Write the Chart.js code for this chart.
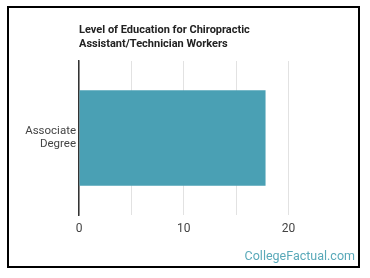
<!DOCTYPE html>
<html>
<head>
<meta charset="utf-8">
<script src="https://cdn.jsdelivr.net/npm/chart.js@4.4.0/dist/chart.umd.min.js"></script>
<style>
  body { margin: 0; background: #fff; }
  #chart { position: absolute; left: 0; top: 0; }
  .frame {
    position: absolute;
    left: 7px;
    top: 6px;
    width: 349px;
    height: 258px;
    border: 2px solid #000;
    pointer-events: none;
  }
</style>
</head>
<body>
<canvas id="chart" width="370" height="278"></canvas>
<div class="frame"></div>
<script>
const titleLines = ['Level of Education for Chiropractic', 'Assistant/Technician Workers'];
const categories = [['Associate', 'Degree']];
const workers = [17.8];
const xMax = 25;
const labelledTicks = [0, 10, 20];

// title + watermark drawn on the canvas, title lined up with the chart area
const extras = {
  id: 'extras',
  afterDraw(chart) {
    const ctx = chart.ctx;
    ctx.save();
    ctx.fillStyle = '#222';
    ctx.font = 'bold 11px Roboto';
    ctx.textBaseline = 'alphabetic';
    ctx.textAlign = 'left';
    titleLines.forEach((line, i) => {
      ctx.fillText(line, chart.chartArea.left, 33 + i * 13.5);
    });
    ctx.fillStyle = '#59a9b9';
    ctx.font = '12.5px Roboto';
    ctx.textAlign = 'right';
    ctx.fillText('CollegeFactual.com', 355, 260);
    ctx.restore();
  },
};

new Chart(document.getElementById('chart'), {
  type: 'bar',
  data: {
    labels: categories,
    datasets: [
      {
        data: workers,
        backgroundColor: '#4aa0b4',
        categoryPercentage: 0.62,
        barPercentage: 1.0,
      },
    ],
  },
  options: {
    indexAxis: 'y',
    responsive: false,
    animation: false,
    layout: {
      padding: { top: 61, right: 29, bottom: 0, left: 0 },
    },
    plugins: {
      legend: { display: false },
      tooltip: { enabled: false },
    },
    scales: {
      x: {
        min: 0,
        max: xMax,
        border: { display: false },
        grid: {
          drawTicks: false,
          color: (ctx) => (ctx.tick && ctx.tick.value === xMax ? 'rgba(0,0,0,0)' : '#e2e2e2'),
          lineWidth: 1,
        },
        ticks: {
          stepSize: 5,
          padding: 7,
          color: '#444',
          font: { family: 'Roboto', size: 12 },
          callback: (value) => (labelledTicks.includes(value) ? value : ''),
        },
        afterFit: (scale) => {
          scale.height = 63;
        },
      },
      y: {
        border: { display: true, color: '#333', width: 1.5 },
        grid: { display: false, drawTicks: false },
        ticks: {
          padding: 3,
          color: '#444',
          font: { family: 'Roboto', size: 11.5, lineHeight: 1.15 },
        },
        afterFit: (scale) => {
          scale.width = 79;
        },
      },
    },
  },
  plugins: [extras],
});
</script>
</body>
</html>
